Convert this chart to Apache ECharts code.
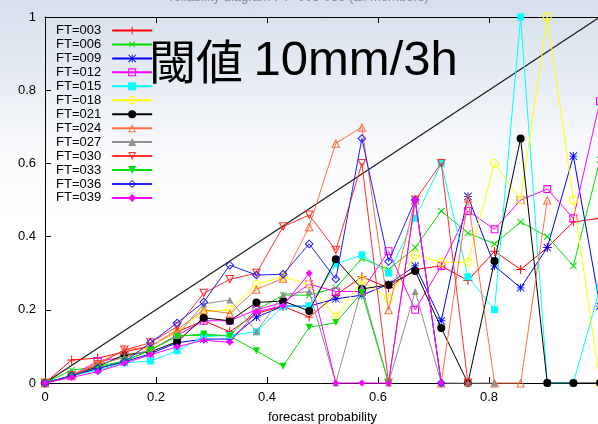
<!DOCTYPE html>
<html>
<head>
<meta charset="utf-8">
<script src="https://cdn.jsdelivr.net/npm/echarts@6/dist/echarts.min.js"></script>
<style>
  html, body { margin: 0; padding: 0; }
  #chart {
    width: 598px; height: 424px;
    background: linear-gradient(to bottom, #d6dfeb 0px, #e9eef5 90px, #f9fafc 150px, #ffffff 220px);
  }
</style>
</head>
<body>
<div id="chart"></div>
<script>
// forecast probability bins (k/21)
var probs = [0, 0.048, 0.095, 0.143, 0.190, 0.238, 0.286, 0.333, 0.381, 0.429, 0.476,
             0.524, 0.571, 0.619, 0.667, 0.714, 0.762, 0.810, 0.857, 0.905, 0.952, 1];

var seriesNames = ['FT=003', 'FT=006', 'FT=009', 'FT=012', 'FT=015', 'FT=018', 'FT=021',
                   'FT=024', 'FT=027', 'FT=030', 'FT=033', 'FT=036', 'FT=039'];

// observed frequency per bin
var ft003 = [0, 0.063, 0.068, 0.085, 0.10, 0.14, 0.17, 0.14, 0.19, 0.21, 0.18, 0.24, 0.29, 0.26, 0.31, 0.32, 0.28, 0.36, 0.31, 0.37, 0.44, 0.45];
var ft006 = [0, 0.035, 0.045, 0.06, 0.09, 0.13, 0.13, 0.13, 0.20, 0.24, 0.24, 0.26, 0.34, 0.31, 0.37, 0.47, 0.41, 0.38, 0.44, 0.40, 0.32, 0.61];
var ft009 = [0, 0.02, 0.04, 0.058, 0.08, 0.11, 0.12, 0.12, 0.18, 0.21, 0.21, 0.23, 0.24, 0.27, 0.32, 0.17, 0.51, 0.32, 0.26, 0.37, 0.62, 0.21];
var ft012 = [0, 0.02, 0.06, 0.07, 0.09, 0.13, 0.17, 0.17, 0.20, 0.22, 0.27, 0.25, 0.25, 0.36, 0.20, 0.32, 0.47, 0.42, 0.50, 0.53, 0.45, 0.77];
var ft015 = [0, 0.02, 0.035, 0.055, 0.06, 0.088, 0.127, 0.13, 0.14, 0.21, 0.21, 0.325, 0.35, 0.30, 0.45, 0.60, 0.29, 0.20, 1.0, 0, 0, 0.26];
var ft018 = [0, 0.02, 0.05, 0.07, 0.10, 0.14, 0.195, 0.20, 0.27, 0.29, 0.27, 0.18, 0.28, 0.23, 0.35, 0.33, 0.33, 0.60, 0.50, 1.0, 0.50, 0];
var ft021 = [0, 0.02, 0.045, 0.077, 0.085, 0.113, 0.178, 0.17, 0.22, 0.224, 0.197, 0.338, 0.257, 0.268, 0.306, 0.15, 0, 0.333, 0.668, 0, 0, 0];
var ft024 = [0, 0.02, 0.055, 0.09, 0.10, 0.145, 0.20, 0.19, 0.256, 0.286, 0.427, 0.655, 0.699, 0.20, 0.50, 0, 0.505, 0, 0, 0.50, null, null];
var ft027 = [0, 0.02, 0.05, 0.07, 0.09, 0.13, 0.216, 0.227, 0.14, 0.242, 0.25, 0, 0.26, 0, 0.25, 0, 0, 0, null, null, null, null];
var ft030 = [0, 0.02, 0.05, 0.09, 0.11, 0.154, 0.245, 0.283, 0.30, 0.427, 0.459, 0.363, 0.60, 0, 0.50, 0.60, 0, null, null, null, null, null];
var ft033 = [0, 0.02, 0.04, 0.06, 0.09, 0.127, 0.134, 0.128, 0.088, 0.046, 0.152, 0.165, 0.247, 0, null, null, null, null, null, null, null, null];
var ft036 = [0, 0.02, 0.04, 0.058, 0.11, 0.164, 0.221, 0.322, 0.295, 0.297, 0.38, 0.284, 0.668, 0.332, 0.50, 0, null, null, null, null, null, null];
var ft039 = [0, 0.015, 0.031, 0.054, 0.077, 0.099, 0.117, 0.111, 0.195, 0.211, 0.30, 0, 0, 0, 0.50, 0, null, null, null, null, null, null];

var allValues = [ft003, ft006, ft009, ft012, ft015, ft018, ft021, ft024, ft027, ft030, ft033, ft036, ft039];
var xTicks = [0, 0.2, 0.4, 0.6, 0.8];
var yTicks = [0, 0.2, 0.4, 0.6, 0.8, 1];

// gnuplot style point types
var PLUS = 'path://M0,4.45H10V5.55H0Z M4.45,0H5.55V10H4.45Z';
var STAR = 'path://M0,4.45H10V5.55H0Z M4.45,0H5.55V10H4.45Z M0.8,0L10,9.2L9.2,10L0,0.8Z M9.2,0L10,0.8L0.8,10L0,9.2Z';
var BOX = 'path://M0,0H10V10H0Z M1.4,1.4V8.6H8.6V1.4Z';
var RING = 'path://M5,0A5,5,0,1,1,5,10A5,5,0,1,1,5,0Z M5,1.3A3.7,3.7,0,1,0,5,8.7A3.7,3.7,0,1,0,5,1.3Z';
var TRI = 'path://M5,0L10,10H0Z M5,2.9L1.9,8.9H8.1Z';
var DIA = 'path://M5,0L10,5L5,10L0,5Z M5,1.6L1.6,5L5,8.4L8.4,5Z';

var styles = [
  { color: '#ff0000', symbol: PLUS, size: 9 },
  { color: '#00e000', symbol: PLUS, size: 9, rotate: 45 },
  { color: '#0000ff', symbol: STAR, size: 8 },
  { color: '#ff00ff', symbol: BOX, size: 8 },
  { color: '#00ffff', symbol: 'rect', size: 7 },
  { color: '#ffff00', symbol: RING, size: 9 },
  { color: '#000000', symbol: 'circle', size: 8 },
  { color: '#ff7040', symbol: TRI, size: 9 },
  { color: '#909090', symbol: 'triangle', size: 7 },
  { color: '#ff3030', symbol: TRI, size: 9, rotate: 180 },
  { color: '#00e000', symbol: 'triangle', size: 7, rotate: 180 },
  { color: '#2020ff', symbol: DIA, size: 9 },
  { color: '#ff00ff', symbol: 'diamond', size: 7 }
];

var series = [{
  name: 'diag',
  type: 'line',
  data: [[0, 0], [1, 1]],
  symbol: 'none',
  silent: true,
  lineStyle: { color: '#202020', width: 1.3 },
  z: 1
}];

seriesNames.forEach(function (name, i) {
  var st = styles[i];
  series.push({
    name: name,
    type: 'line',
    data: probs.map(function (p, k) { return [p, allValues[i][k]]; }),
    symbol: st.symbol,
    symbolSize: st.size,
    symbolRotate: st.rotate || 0,
    showAllSymbol: true,
    clip: false,
    itemStyle: { color: st.color },
    lineStyle: { color: st.color, width: 1 },
    z: 2 + i
  });
});

var chart = echarts.init(document.getElementById('chart'), null, { renderer: 'canvas' });

chart.setOption({
  animation: false,
  backgroundColor: 'transparent',
  textStyle: { fontFamily: '"Liberation Sans", Arial, sans-serif' },
  title: {
    text: 'reliability diagram FT=003-039 (all members)',
    left: 'center',
    top: -14,
    textStyle: { fontSize: 13, fontWeight: 'normal', color: '#888' }
  },
  grid: { left: 45, top: 17, width: 555, height: 366, outerBoundsMode: 'none', containLabel: false },
  legend: {
    data: seriesNames,
    orient: 'vertical',
    left: 51,
    top: 19,
    align: 'right',
    itemWidth: 40,
    itemHeight: 10,
    itemGap: 0.95,
    selectedMode: false,
    textStyle: { fontSize: 13, color: '#000', fontFamily: '"Liberation Sans", Arial, sans-serif', padding: [0, 6, 0, 0] }
  },
  xAxis: [{
    type: 'value',
    min: 0, max: 1, interval: 0.2,
    name: 'forecast probability',
    nameLocation: 'middle',
    nameGap: 28,
    nameTextStyle: { fontSize: 13, color: '#000' },
    axisLine: { show: true, lineStyle: { color: '#000', width: 1 } },
    axisTick: { show: true, inside: true, length: 6, lineStyle: { color: '#000' } },
    axisLabel: {
      color: '#000', fontSize: 13, margin: 8,
      formatter: function (v) { return xTicks.indexOf(v) >= 0 ? String(v) : ''; }
    },
    splitLine: { show: false }
  }, {
    type: 'value',
    position: 'top',
    min: 0, max: 1, interval: 0.2,
    axisLine: { show: true, lineStyle: { color: '#000', width: 1 } },
    axisTick: { show: true, inside: true, length: 6, lineStyle: { color: '#000' } },
    axisLabel: { show: false },
    splitLine: { show: false }
  }],
  yAxis: {
    type: 'value',
    min: 0, max: 1, interval: 0.2,
    axisLine: { show: true, lineStyle: { color: '#000', width: 1 } },
    axisTick: { show: true, inside: true, length: 6, lineStyle: { color: '#000' } },
    axisLabel: {
      color: '#000', fontSize: 13, margin: 9,
      formatter: function (v) { return yTicks.indexOf(v) >= 0 ? String(v) : ''; }
    },
    splitLine: { show: false }
  },
  graphic: [{
    type: 'text',
    left: 149,
    top: 37,
    z: 100,
    style: {
      text: '{a|閾値 }{b|10mm/3h}',
      fill: '#000',
      rich: {
        a: { fontSize: 47, fontFamily: '"Noto Sans CJK JP", sans-serif', fill: '#000' },
        b: { fontSize: 49, fontFamily: '"Liberation Sans", Arial, sans-serif', fill: '#000' }
      }
    }
  }],
  series: series
});
</script>
</body>
</html>
